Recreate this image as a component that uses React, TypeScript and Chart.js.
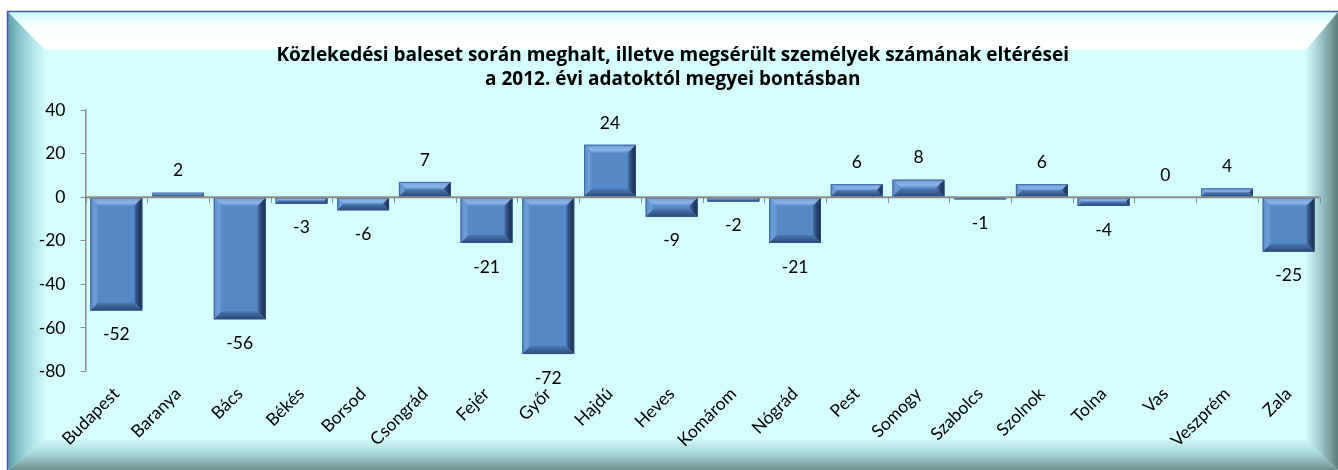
import React, { useEffect, useRef } from "react";
import { Chart, registerables } from "chart.js";

Chart.register(...registerables);

const categories = [
  "Budapest", "Baranya", "Bács", "Békés", "Borsod", "Csongrád", "Fejér", "Győr", "Hajdú", "Heves",
  "Komárom", "Nógrád", "Pest", "Somogy", "Szabolcs", "Szolnok", "Tolna", "Vas", "Veszprém", "Zala",
];
const differences = [-52, 2, -56, -3, -6, 7, -21, -72, 24, -9, -2, -21, 6, 8, -1, 6, -4, 0, 4, -25];
const titleLines = [
  "Közlekedési baleset során meghalt, illetve megsérült személyek számának eltérései",
  "a 2012. évi adatoktól megyei bontásban",
];
const yMin = -80;
const yMax = 40;
const yStep = 20;

const FONT = "Lato, 'Open Sans', sans-serif";
const TITLE_FONT = "'Open Sans', Lato, sans-serif";
const FONT_SIZE = 17.5;

const framePlugin = {
  id: "frame",
  beforeDraw(chart: any) {
    const ctx = chart.ctx;
    const W = chart.width;
    const H = chart.height;
    const L = 8, T = 12, R = W, B = H;
    const bw = 37, bt = 38, br = 32, bb = 30;
    ctx.save();
    ctx.fillStyle = "#ffffff";
    ctx.fillRect(0, 0, W, H);
    ctx.fillStyle = "rgb(214,253,253)";
    ctx.fillRect(L, T, R - L, B - T);
    let g = ctx.createLinearGradient(0, T, 0, T + bt);
    g.addColorStop(0, "rgb(200,250,250)");
    g.addColorStop(0.35, "rgb(250,255,255)");
    g.addColorStop(0.95, "rgb(255,255,255)");
    g.addColorStop(1, "rgb(225,253,253)");
    ctx.fillStyle = g;
    ctx.beginPath();
    ctx.moveTo(L, T); ctx.lineTo(R, T); ctx.lineTo(R - br, T + bt); ctx.lineTo(L + bw, T + bt); ctx.closePath();
    ctx.fill();
    g = ctx.createLinearGradient(L, 0, L + bw, 0);
    g.addColorStop(0, "rgb(95,160,170)");
    g.addColorStop(0.5, "rgb(160,215,220)");
    g.addColorStop(1, "rgb(210,252,252)");
    ctx.fillStyle = g;
    ctx.beginPath();
    ctx.moveTo(L, T); ctx.lineTo(L + bw, T + bt); ctx.lineTo(L + bw, B - bb); ctx.lineTo(L, B); ctx.closePath();
    ctx.fill();
    g = ctx.createLinearGradient(R - br, 0, R, 0);
    g.addColorStop(0, "rgb(210,252,252)");
    g.addColorStop(0.5, "rgb(150,195,195)");
    g.addColorStop(1, "rgb(95,125,125)");
    ctx.fillStyle = g;
    ctx.beginPath();
    ctx.moveTo(R, T); ctx.lineTo(R, B); ctx.lineTo(R - br, B - bb); ctx.lineTo(R - br, T + bt); ctx.closePath();
    ctx.fill();
    g = ctx.createLinearGradient(0, B - bb, 0, B);
    g.addColorStop(0, "rgb(205,248,248)");
    g.addColorStop(0.5, "rgb(165,210,210)");
    g.addColorStop(1, "rgb(110,145,145)");
    ctx.fillStyle = g;
    ctx.beginPath();
    ctx.moveTo(L, B); ctx.lineTo(L + bw, B - bb); ctx.lineTo(R - br, B - bb); ctx.lineTo(R, B); ctx.closePath();
    ctx.fill();
    ctx.strokeStyle = "rgb(75,85,170)";
    ctx.lineWidth = 1.5;
    ctx.beginPath();
    ctx.moveTo(L - 0.5, B); ctx.lineTo(L - 0.5, T - 0.5); ctx.lineTo(R, T - 0.5);
    ctx.stroke();
    ctx.restore();
  },
};

const bevelPlugin = {
  id: "bevel",
  afterDatasetsDraw(chart: any) {
    const ctx = chart.ctx;
    const meta = chart.getDatasetMeta(0);
    const yScale = chart.scales.y;
    const zeroY = yScale.getPixelForValue(0);
    ctx.save();
    meta.data.forEach((bar: any) => {
      const w = bar.width;
      const left = bar.x - w / 2;
      const right = bar.x + w / 2;
      const top = Math.min(bar.y, bar.base);
      const bottom = Math.max(bar.y, bar.base);
      const h = bottom - top;
      if (h < 0.5) return;
      const s = Math.min(8, h / 2, w / 2);
      ctx.fillStyle = "rgb(86,136,200)";
      ctx.fillRect(left, top, w, h);
      let g = ctx.createLinearGradient(0, top, 0, top + s);
      g.addColorStop(0, "rgb(105,150,210)");
      g.addColorStop(0.6, "rgb(140,180,232)");
      g.addColorStop(1, "rgb(100,148,210)");
      ctx.fillStyle = g;
      ctx.beginPath();
      ctx.moveTo(left, top); ctx.lineTo(right, top); ctx.lineTo(right - s, top + s); ctx.lineTo(left + s, top + s); ctx.closePath();
      ctx.fill();
      g = ctx.createLinearGradient(left, 0, left + s, 0);
      g.addColorStop(0, "rgb(90,140,203)");
      g.addColorStop(0.6, "rgb(110,158,218)");
      g.addColorStop(1, "rgb(92,142,205)");
      ctx.fillStyle = g;
      ctx.beginPath();
      ctx.moveTo(left, top); ctx.lineTo(left + s, top + s); ctx.lineTo(left + s, bottom - s); ctx.lineTo(left, bottom); ctx.closePath();
      ctx.fill();
      g = ctx.createLinearGradient(right - s, 0, right, 0);
      g.addColorStop(0, "rgb(70,112,170)");
      g.addColorStop(0.5, "rgb(40,68,108)");
      g.addColorStop(1, "rgb(25,45,75)");
      ctx.fillStyle = g;
      ctx.beginPath();
      ctx.moveTo(right, top); ctx.lineTo(right, bottom); ctx.lineTo(right - s, bottom - s); ctx.lineTo(right - s, top + s); ctx.closePath();
      ctx.fill();
      g = ctx.createLinearGradient(0, bottom - s, 0, bottom);
      g.addColorStop(0, "rgb(75,120,180)");
      g.addColorStop(0.6, "rgb(55,92,145)");
      g.addColorStop(1, "rgb(45,75,120)");
      ctx.fillStyle = g;
      ctx.beginPath();
      ctx.moveTo(left, bottom); ctx.lineTo(left + s, bottom - s); ctx.lineTo(right - s, bottom - s); ctx.lineTo(right, bottom); ctx.closePath();
      ctx.fill();
      ctx.strokeStyle = "rgba(50,85,135,0.6)";
      ctx.lineWidth = 1;
      ctx.strokeRect(left + 0.5, top + 0.5, w - 1, h - 1);
    });
    const area = chart.chartArea;
    ctx.strokeStyle = "rgb(140,140,140)";
    ctx.lineWidth = 2;
    ctx.beginPath();
    ctx.moveTo(area.left, zeroY);
    ctx.lineTo(area.right, zeroY);
    ctx.stroke();
    ctx.lineWidth = 1;
    const n = categories.length;
    const cw = (area.right - area.left) / n;
    ctx.beginPath();
    for (let i = 0; i <= n; i++) {
      const x = Math.round(area.left + i * cw) + 0.5;
      ctx.moveTo(x, zeroY);
      ctx.lineTo(x, zeroY + 6);
    }
    ctx.stroke();
    ctx.fillStyle = "#000";
    ctx.font = FONT_SIZE + "px " + FONT;
    ctx.textAlign = "center";
    ctx.textBaseline = "middle";
    meta.data.forEach((bar: any, i: number) => {
      const v = differences[i];
      const y = v < 0 ? bar.y + 24 : bar.y - 22;
      ctx.fillText(String(v), bar.x, y);
    });
    ctx.restore();
  },
};

export default function App() {
  const ref = useRef<HTMLCanvasElement>(null);
  useEffect(() => {
    document.body.style.margin = "0";
    const chart = new Chart(ref.current!, {
      type: "bar",
      data: {
        labels: categories,
        datasets: [
          {
            data: differences,
            backgroundColor: "rgb(86,136,200)",
            borderWidth: 0,
            barPercentage: 0.84,
            categoryPercentage: 1,
          },
        ],
      },
      plugins: [framePlugin, bevelPlugin],
      options: {
        animation: false,
        responsive: false,
        devicePixelRatio: 1,
        layout: { padding: { left: 26, top: 0, right: 18.5, bottom: 0 } },
        plugins: {
          legend: { display: false },
          tooltip: { enabled: false },
          title: {
            display: true,
            text: titleLines,
            color: "#000",
            font: { family: TITLE_FONT, size: 19, weight: "bold", lineHeight: 24 / 19 },
            padding: { top: 44, bottom: 18 },
          },
        },
        scales: {
          x: {
            grid: { display: false },
            border: { display: false },
            ticks: {
              color: "#000",
              font: { family: FONT, size: FONT_SIZE },
              minRotation: 45,
              maxRotation: 45,
              autoSkip: false,
              padding: 4,
            },
            afterFit: (scale: any) => {
              scale.height = 98.5;
            },
          },
          y: {
            min: yMin,
            max: yMax,
            border: { display: true, color: "rgb(140,140,140)", width: 1.5 },
            grid: { drawOnChartArea: false, drawTicks: true, tickLength: 5, tickColor: "rgb(140,140,140)" },
            ticks: {
              stepSize: yStep,
              color: "#000",
              font: { family: FONT, size: FONT_SIZE },
              padding: 15,
            },
            afterFit: (scale: any) => {
              scale.width = 59.5;
            },
          },
        },
      },
    });
    return () => chart.destroy();
  }, []);
  return (
    <div style={{ position: "absolute", left: 0, top: 0, width: 1338, height: 470 }}>
      <canvas ref={ref} width={1338} height={470} style={{ display: "block", width: 1338, height: 470 }} />
    </div>
  );
}
